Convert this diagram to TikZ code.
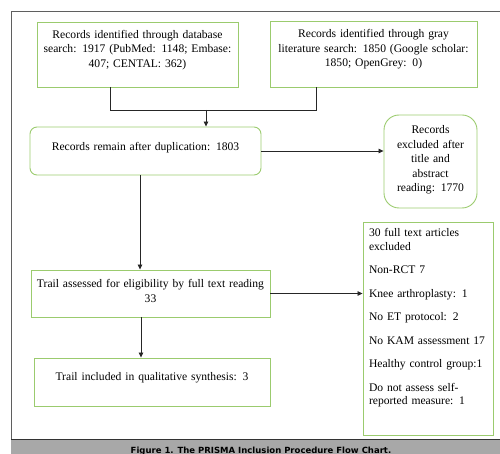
\documentclass[tikz,border=0pt]{standalone}
\usepackage{fontspec}
\setmainfont{Liberation Serif}
\newfontfamily\capfont{DejaVu Sans}
\usetikzlibrary{arrows.meta}
\usetikzlibrary{positioning}
\definecolor{BoxGreen}{RGB}{155,203,110}
\definecolor{FrameGray}{RGB}{95,95,95}
\definecolor{BarGray}{RGB}{168,168,168}
\tikzset{
	box/.style={draw=BoxGreen, line width=0.9pt, align=center, inner xsep=3pt, inner ysep=3pt,
		font=\fontsize{11.6}{14.5}\selectfont},
	rbox/.style={box, rounded corners=7pt},
	link/.style={draw=black!85, line width=0.8pt},
	arr/.style={link, -{Triangle[length=5pt, width=4.5pt]}}
}
\begin{document}
\begin{tikzpicture}[x=1pt, y=-1pt]
	\useasboundingbox (0,0) rectangle (500,454);
	\clip (0,0) rectangle (500,454);
	% frame and caption bar
	\draw[FrameGray, line width=1pt] (11,445) -- (11,12) -- (510,12);
	\fill[BarGray] (11,439) rectangle (510,460);
	\draw[black!80, line width=1pt] (11,439) -- (510,439);
	\node[font=\capfont\bfseries\fontsize{8.5}{10}\selectfont, anchor=base, inner sep=0pt] (caption) at (261,453.5)
		{Figure 1. The PRISMA Inclusion Procedure Flow Chart.};
	% boxes
	\node[box, minimum width=201pt, minimum height=65pt, text width=195pt, text depth=41pt] (db) at (137.5,54.5)
		{Records identified through database\\ search: 1917 (PubMed: 1148; Embase:\\ 407; CENTAL: 362)};
	\node[box, minimum width=207pt, minimum height=66pt, text width=201pt, text depth=41pt] (gray) at (373.5,54)
		{Records identified through gray\\ literature search: 1850 (Google scholar:\\ 1850; OpenGrey: 0)};
	\node[rbox, minimum width=231pt, minimum height=48pt, text width=225pt, text depth=9pt] (dedup) at (145.5,151)
		{Records remain after duplication: 1803};
	\node[box, rounded corners=15pt, minimum width=93pt, minimum height=93pt, text width=87pt, text depth=64pt] (titleex) at (430.5,161.5)
		{Records\\ excluded after\\ title and\\ abstract\\ reading: 1770};
	\node[box, minimum width=239pt, minimum height=47pt, text width=233pt, text depth=20pt] (elig) at (150.5,293.5)
		{Trail assessed for eligibility by full text reading\\ 33};
	\node[box, align=left, inner xsep=6pt, minimum width=130pt, minimum height=213pt, text width=118pt, text depth=192pt,
		font=\fontsize{11.6}{13.5}\selectfont] (fullex) at (428,328.5)
		{30 full text articles\\ excluded\\[10pt] Non-RCT 7\\[10pt] Knee arthroplasty: 1\\[10pt] No ET protocol: 2\\[10pt]
		No KAM assessment 17\\[10pt] Healthy control group:1\\[10pt] Do not assess self-\\ reported measure: 1};
	\node[box, minimum width=236pt, minimum height=48pt, text width=230pt, text depth=11pt] (incl) at (152,382)
		{Trail included in qualitative synthesis: 3};
	% connectors
	\coordinate (merge) at (206,110);
	\coordinate (d1) at ([xshift=-5.5pt]dedup.south);
	\coordinate (e1) at ([xshift=-9.5pt]elig.south);
	\draw[link] ([xshift=-27.5pt]db.south) |- (merge);
	\draw[link] ([xshift=-57.5pt]gray.south) |- (merge);
	\draw[arr] (merge) -- (merge |- dedup.north);
	\draw[arr] (dedup.east) -- (dedup.east -| titleex.west);
	\draw[arr] (d1) -- (d1 |- elig.north);
	\draw[arr] (elig.east) -- (elig.east -| fullex.west);
	\draw[arr] (e1) -- (e1 |- incl.north);
\end{tikzpicture}
\end{document}
